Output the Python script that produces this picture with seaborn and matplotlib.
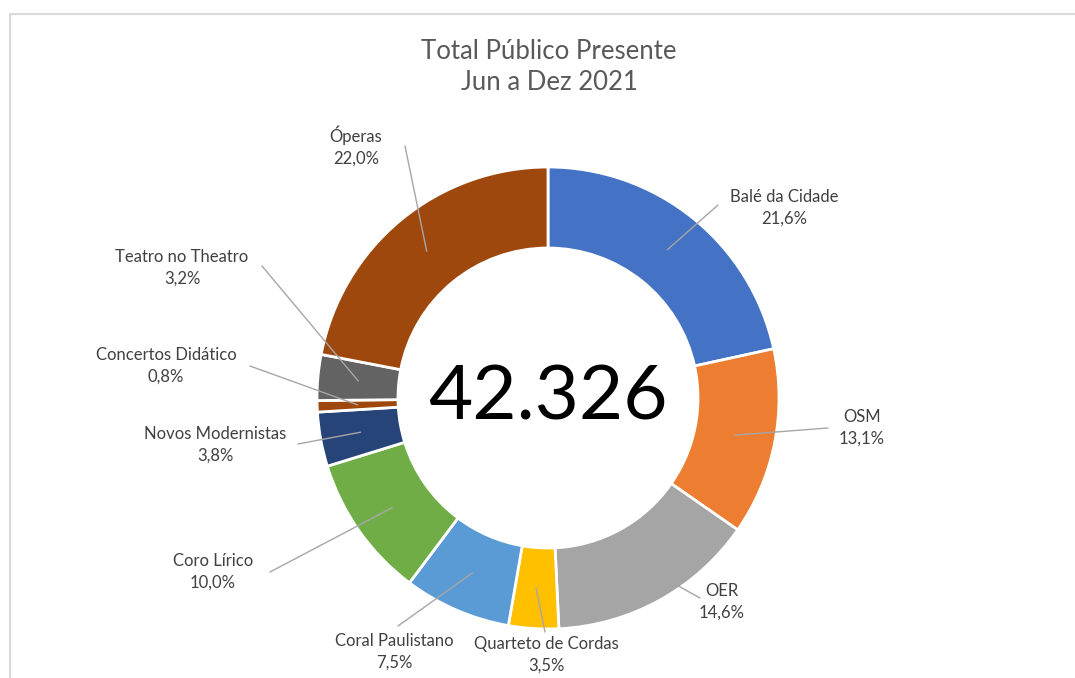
import matplotlib
matplotlib.use("Agg")
import matplotlib.pyplot as plt
import seaborn as sns
import numpy as np

# dados do grafico
categorias = ["Balé da Cidade", "OSM", "OER", "Quarteto de Cordas", "Coral Paulistano",
              "Coro Lírico", "Novos Modernistas", "Concertos Didático", "Teatro no Theatro", "Óperas"]
percentuais = [21.6, 13.1, 14.6, 3.5, 7.5, 10.0, 3.8, 0.8, 3.2, 22.0]
total_publico = "42.326"
titulo = "Total Público Presente\nJun a Dez 2021"

cores = ["#4472C4", "#ED7D31", "#A5A5A5", "#FFC000", "#5B9BD5",
         "#70AD47", "#264478", "#9E480E", "#636363", "#9E480E"]

# posicao dos rotulos (pixels, y medido do topo) e ponta da linha guia
pos_rotulo = [(784, 208), (862, 428), (722, 602), (546, 655), (394, 652),
              (213, 572), (215, 445), (166, 366), (182, 268), (356, 146)]
ponta_linha = [(718, 205), (828, 428), (700, 598), (545, 632), (398, 626),
               (270, 572), (298, 444), (250, 366), (262, 266), (405, 146)]

sns.set_theme(style="white")
plt.rcParams['font.family'] = ['Lato', 'DejaVu Sans']

W, H = 1075, 678
fig = plt.figure(figsize=(W / 100, H / 100), dpi=100)
ax = fig.add_axes([0, 0, 1, 1])

# moldura cinza do grafico
ax.plot([10, 10, W + 5], [-5, H - 14, H - 14], color="#D9D9D9", lw=1.5)

cx, cy = 548, H - 398
R, largura = 231, 81
wedges, _ = ax.pie(percentuais, colors=cores, startangle=90, counterclock=False,
                   center=(cx, cy), radius=R, frame=True,
                   wedgeprops=dict(width=largura, edgecolor="white", linewidth=2))
ax.set_xlim(0, W)
ax.set_ylim(0, H)
ax.set_aspect('equal')
ax.axis('off')

r_meio = R - largura / 2
for i, w in enumerate(wedges):
    ang = np.deg2rad((w.theta1 + w.theta2) / 2)
    x0 = cx + r_meio * np.cos(ang)
    y0 = cy + r_meio * np.sin(ang)
    px, py = ponta_linha[i]
    ax.plot([x0, px], [y0, H - py], color="#A6A6A6", lw=1, zorder=3)
    lx, ly = pos_rotulo[i]
    txt = f"{categorias[i]}\n{percentuais[i]:.1f}".replace(".", ",") + "%"
    ax.text(lx, H - ly, txt, ha="center", va="center", fontsize=12,
            color="#404040", linespacing=1.45, zorder=4)

ax.text(cx, cy, total_publico, ha="center", va="center", fontsize=55, color="black")
ax.text(549, H - 67, titulo, ha="center", va="center", fontsize=18.5,
        color="#595959", linespacing=1.32)

fig.savefig("out.png", dpi=100)
